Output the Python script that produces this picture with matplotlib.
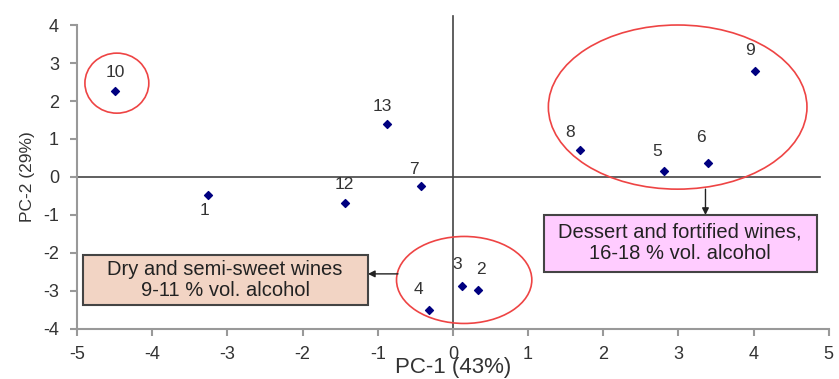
import matplotlib.pyplot as plt
from matplotlib.patches import Ellipse, Rectangle

plt.rcParams['font.family'] = ['Liberation Sans', 'DejaVu Sans']
plt.rcParams['axes.unicode_minus'] = False

# PCA scores
labels = ['1', '2', '3', '4', '5', '6', '7', '8', '9', '10', '12', '13']
pc1 = [-3.26, 0.33, 0.12, -0.32, 2.81, 3.40, -0.43, 1.69, 4.02, -4.49, -1.44, -0.88]
pc2 = [-0.47, -2.97, -2.87, -3.50, 0.16, 0.37, -0.24, 0.71, 2.79, 2.26, -0.68, 1.39]

# label offsets in pixels (dx, dy)
offsets = {'1': (-3, -16), '2': (3, 20), '3': (-5, 22), '4': (-10, 20), '5': (-7, 19),
           '6': (-8, 25), '7': (-7, 17), '8': (-10, 18), '9': (-5, 20), '10': (0, 19),
           '12': (0, 18), '13': (-4, 18)}

fig = plt.figure(figsize=(8.39, 3.79), dpi=100)
ax = fig.add_axes([0.0918, 0.132, 0.896, 0.802])

ax.scatter(pc1, pc2, marker='D', s=16, color='#000080', zorder=3)
for lab, x, y in zip(labels, pc1, pc2):
    dx, dy = offsets[lab]
    ax.annotate(lab, (x, y), xytext=(dx, dy), textcoords='offset pixels',
                ha='center', va='center', fontsize=12.5, color='#333333')

# crosshair at origin
ax.plot([0, 0], [-4, 4.25], color='#444444', lw=1.2, clip_on=False, zorder=2)
ax.plot([-5, 4.88], [0, 0], color='#444444', lw=1.2, clip_on=False, zorder=2)

# red group ellipses
for c, w, h in [((-4.47, 2.47), 0.85, 1.58), ((2.99, 1.84), 3.44, 4.32),
                ((0.15, -2.71), 1.80, 2.29)]:
    ax.add_patch(Ellipse(c, w, h, fill=False, edgecolor='#ee4444', lw=1.2, zorder=2,
                         clip_on=False))

# group boxes
ax.add_patch(Rectangle((-4.92, -3.37), 3.79, 1.32, facecolor='#f2d4c4',
                       edgecolor='#444444', lw=1.5, zorder=3))
ax.add_patch(Rectangle((1.21, -2.5), 3.63, 1.5, facecolor='#ffccff',
                       edgecolor='#444444', lw=1.5, zorder=3))
ax.text(-3.03, -2.71, 'Dry and semi-sweet wines\n9-11 % vol. alcohol', ha='center', va='center',
        fontsize=14.5, color='#222222', linespacing=1.15, zorder=4)
ax.text(3.02, -1.74, 'Dessert and fortified wines,\n16-18 % vol. alcohol', ha='center', va='center',
        fontsize=14.5, color='#222222', linespacing=1.15, zorder=4)
ax.annotate('', xy=(-1.13, -2.55), xytext=(-0.73, -2.55),
            arrowprops=dict(arrowstyle='-|>', color='#222222', lw=1, mutation_scale=10,
                            shrinkA=0, shrinkB=0))
ax.annotate('', xy=(3.36, -1.0), xytext=(3.36, -0.32),
            arrowprops=dict(arrowstyle='-|>', color='#222222', lw=1, mutation_scale=10,
                            shrinkA=0, shrinkB=0))

ax.set_xlim(-5, 5)
ax.set_ylim(-4, 4)
ax.set_xticks(range(-5, 6))
ax.set_yticks(range(-4, 5))
for s in ['top', 'right']:
    ax.spines[s].set_visible(False)
for s in ['left', 'bottom']:
    ax.spines[s].set_color('#999999')
    ax.spines[s].set_linewidth(1.5)
ax.tick_params(colors='#999999', length=5, width=1.5, labelsize=13, labelcolor='#333333')
ax.tick_params(axis='x', pad=7)
ax.tick_params(axis='y', pad=8)
ax.set_xlabel('PC-1 (43%)', fontsize=16, color='#333333', labelpad=-4)
ax.set_ylabel('PC-2 (29%)', fontsize=12.5, color='#333333', labelpad=6)

fig.savefig('out.png', dpi=100)
